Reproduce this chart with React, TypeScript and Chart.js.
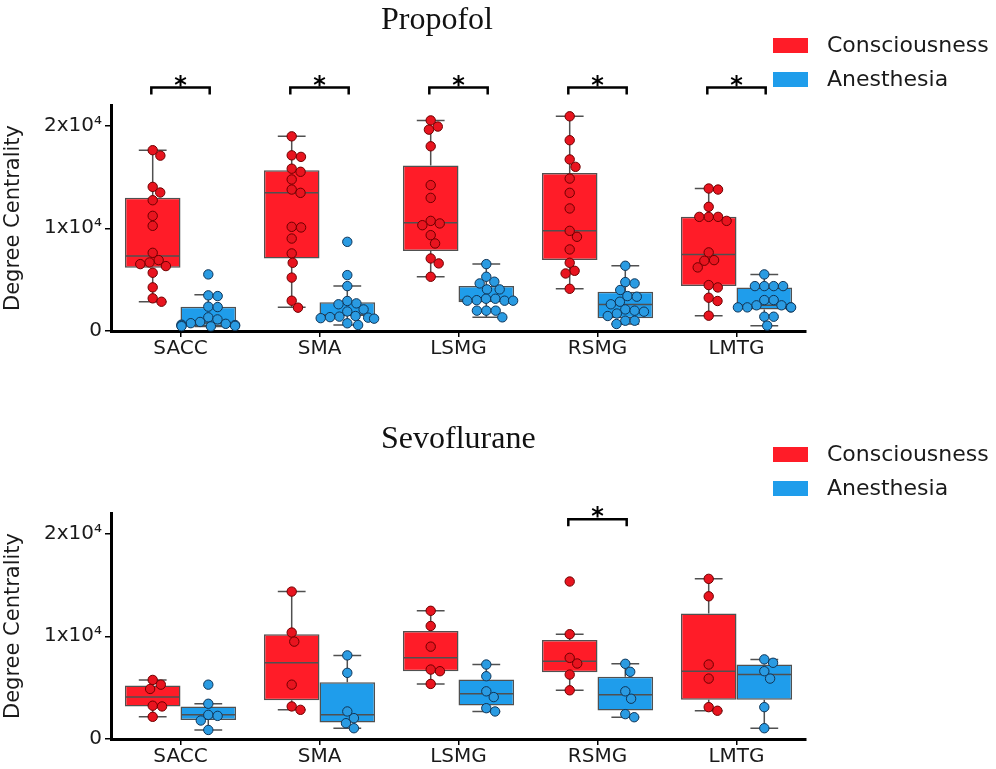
import React, { useEffect, useRef } from 'react';
import { Chart, registerables } from 'chart.js';

Chart.register(...registerables);

// ---------- data ----------
const regions = ['SACC', 'SMA', 'LSMG', 'RSMG', 'LMTG'];
const groupNames = ['Consciousness', 'Anesthesia'];
const yTickValues = [0, 10000, 20000];
const yTickLabels: Record<number, string> = { 0: '0', 10000: '1x10\u2074', 20000: '2x10\u2074' };

// box statistics per region: [whiskerLow, q1, median, q3, whiskerHigh]
const propofolConsciousnessBox = [
  [2850, 6160, 7290, 12960, 17600],
  [2300, 7060, 13450, 15650, 18950],
  [5280, 7780, 10530, 16100, 20500],
  [4110, 6900, 9750, 15390, 20900],
  [1490, 4370, 7450, 11110, 13870],
];
const propofolAnesthesiaBox = [
  [450, 480, 780, 2370, 3520],
  [580, 1460, 1550, 2790, 4370],
  [1330, 2790, 3010, 4370, 6510],
  [680, 1230, 2590, 3820, 6350],
  [520, 2100, 2500, 4240, 5510],
];
const sevofluraneConsciousnessBox = [
  [2160, 3170, 4080, 5200, 5750],
  [2840, 3760, 7420, 10200, 14350],
  [5360, 6600, 7900, 10520, 12480],
  [4740, 6500, 7580, 9640, 10200],
  [2750, 3820, 6600, 12220, 15590],
];
const sevofluraneAnesthesiaBox = [
  [880, 1860, 2350, 3170, 3430],
  [1050, 1600, 2350, 5520, 8140],
  [2680, 3270, 4410, 5780, 7250],
  [2120, 2780, 4310, 6050, 7320],
  [1050, 3820, 6270, 7250, 7750],
];

// individual subject values
const propofolConsciousnessPoints = [
  [17600, 17070, 14030, 13480, 12730, 11210, 10240, 7610, 6900, 6670, 6510, 6320, 5670, 4250, 3180, 2850],
  [18950, 17100, 16950, 15800, 15500, 14750, 13770, 13450, 10140, 10080, 9000, 7550, 6640, 5200, 2950, 2270],
  [20500, 19900, 19600, 17980, 14200, 12960, 10720, 10470, 10300, 9330, 8520, 7060, 6580, 5280],
  [20900, 18570, 16700, 15980, 14840, 13450, 11930, 9750, 9170, 7940, 6640, 5860, 5600, 4110],
  [13870, 13770, 12090, 11110, 11110, 11110, 10720, 7650, 6900, 6840, 6190, 4470, 4240, 3240, 2920, 1490],
];
const propofolAnesthesiaPoints = [
  [5510, 3470, 3400, 2370, 2330, 1330, 1130, 880, 760, 700, 620, 580, 540, 500, 470, 450],
  [8680, 5440, 4370, 2920, 2690, 2600, 2100, 1900, 1460, 1400, 1350, 1300, 1250, 1200, 750, 580],
  [6510, 5280, 4800, 4630, 4050, 4050, 3140, 3140, 3000, 2950, 2950, 2950, 1980, 1980, 1980, 1330],
  [6350, 4760, 4630, 3990, 3400, 3340, 2850, 2600, 2100, 1980, 1880, 1700, 1460, 1000, 1000, 680],
  [5510, 4370, 4370, 4370, 4370, 3010, 3010, 2500, 2500, 2300, 2300, 2300, 2300, 1390, 1390, 520],
];
const sevofluraneConsciousnessPoints = [
  [5750, 5290, 4870, 3240, 3170, 2160],
  [14350, 10360, 9480, 5290, 3170, 2840],
  [12480, 11000, 8990, 6760, 6600, 5360],
  [15330, 10200, 7900, 7350, 6270, 4740],
  [15590, 13890, 7250, 5880, 3100, 2750],
];
const sevofluraneAnesthesiaPoints = [
  [5290, 3430, 2350, 2250, 1800, 880],
  [8140, 6440, 2680, 2030, 1540, 1050],
  [7250, 6110, 4640, 4080, 3000, 2680],
  [7320, 6540, 4640, 3920, 2420, 2120],
  [7750, 7420, 6600, 5880, 3100, 1050],
];

// significance markers (*) per region and bracket height (data units)
const propofolSignificant = [true, true, true, true, true];
const sevofluraneSignificant = [false, false, false, true, false];
const propofolBracketValue = 23700;
const sevofluraneBracketValue = 21400;

// ---------- styles ----------
const BOX_COLORS = ['#FF1C28', '#1F9DEB'];
const DOT_FILL = ['#E8141F', '#2A9BE2'];
const DOT_EDGE = ['#6E0000', '#0F3558'];
const EDGE = '#505050';
const TEXT = '#1a1a1a';
const SANS = "'DejaVu Sans', sans-serif";
const SERIF = "'Liberation Serif', 'Times New Roman', serif";

function swarmOffsets(ys: number[], d: number, limit: number): number[] {
  const order = ys.map((_, i) => i).sort((a, b) => ys[a] - ys[b]);
  const placed: { x: number; y: number }[] = [];
  const xs = new Array(ys.length).fill(0);
  for (const i of order) {
    const y = ys[i];
    const near = placed.filter((p) => Math.abs(p.y - y) < d);
    const cands = [0];
    for (const p of near) {
      const dx = Math.sqrt(d * d - (p.y - y) * (p.y - y));
      cands.push(p.x + dx, p.x - dx);
    }
    cands.sort((a, b) => Math.abs(a) - Math.abs(b) || b - a);
    let chosen = 0;
    for (const c of cands) {
      if (near.every((p) => (p.x - c) ** 2 + (p.y - y) ** 2 >= d * d - 0.01)) {
        chosen = c;
        break;
      }
    }
    xs[i] = chosen;
    placed.push({ x: chosen, y });
  }
  return xs.map((v) => Math.max(-limit, Math.min(limit, v)));
}

type PanelProps = {
  title: string;
  boxes: number[][][];
  points: number[][][];
  significant: boolean[];
  bracketValue: number;
  canvasTop: number;
  canvasHeight: number;
  areaTop: number;
  areaBottom: number;
  legendTop: number;
  titleBaseline: number;
};

function Panel(props: PanelProps) {
  const ref = useRef<HTMLCanvasElement | null>(null);
  useEffect(() => {
    const canvas = ref.current;
    if (!canvas) return;
    const W = 996;
    const areaLeft = 111;
    const areaRight = 806;
    const xAxisH = 30;

    const extras = {
      id: 'boxExtras',
      afterDatasetsDraw(chart: any) {
        const { ctx } = chart;
        const x = chart.scales.x;
        const y = chart.scales.y;
        const yp = (v: number) => y.getPixelForValue(v);
        ctx.save();
        for (let di = 0; di < 2; di++) {
          const meta = chart.getDatasetMeta(di);
          meta.data.forEach((bar: any, i: number) => {
            const s = props.boxes[di][i];
            const cx = bar.x;
            const w = bar.width;
            ctx.strokeStyle = EDGE;
            ctx.lineWidth = 1.5;
            ctx.beginPath();
            ctx.moveTo(cx, yp(s[3]));
            ctx.lineTo(cx, yp(s[4]));
            ctx.moveTo(cx, yp(s[1]));
            ctx.lineTo(cx, yp(s[0]));
            ctx.moveTo(cx - w / 4, yp(s[4]));
            ctx.lineTo(cx + w / 4, yp(s[4]));
            ctx.moveTo(cx - w / 4, yp(s[0]));
            ctx.lineTo(cx + w / 4, yp(s[0]));
            ctx.moveTo(cx - w / 2 + 1, yp(s[2]));
            ctx.lineTo(cx + w / 2 - 1, yp(s[2]));
            ctx.stroke();
          });
        }
        for (let di = 0; di < 2; di++) {
          const meta = chart.getDatasetMeta(di);
          meta.data.forEach((bar: any, i: number) => {
            const vals = props.points[di][i];
            const ys = vals.map(yp);
            const xs = swarmOffsets(ys, 9.4, bar.width / 2 - 1);
            ctx.fillStyle = DOT_FILL[di];
            ctx.strokeStyle = DOT_EDGE[di];
            ctx.lineWidth = 1;
            ys.forEach((py: number, k: number) => {
              ctx.beginPath();
              ctx.arc(bar.x + xs[k], py, 4.7, 0, Math.PI * 2);
              ctx.fill();
              ctx.stroke();
            });
          });
        }
        // significance brackets
        const step = x.getPixelForValue(1) - x.getPixelForValue(0);
        const half = step * 0.21;
        const yb = yp(props.bracketValue);
        ctx.strokeStyle = '#000';
        ctx.lineWidth = 2.5;
        ctx.fillStyle = '#000';
        ctx.font = `bold 24px ${SANS}`;
        ctx.textAlign = 'center';
        ctx.textBaseline = 'alphabetic';
        props.significant.forEach((sig, i) => {
          if (!sig) return;
          const cx = x.getPixelForValue(i);
          ctx.beginPath();
          ctx.moveTo(cx - half, yb + 7);
          ctx.lineTo(cx - half, yb);
          ctx.lineTo(cx + half, yb);
          ctx.lineTo(cx + half, yb + 7);
          ctx.stroke();
          const m = ctx.measureText('*');
          const target = yb - 7;
          const base = target - (m.actualBoundingBoxDescent - m.actualBoundingBoxAscent) / 2;
          ctx.fillText('*', cx, base);
        });
        ctx.restore();
      },
      afterDraw(chart: any) {
        const { ctx } = chart;
        ctx.save();
        ctx.fillStyle = '#111';
        ctx.font = `32px ${SERIF}`;
        ctx.textAlign = 'left';
        ctx.textBaseline = 'alphabetic';
        ctx.fillText(props.title, 381, props.titleBaseline);
        groupNames.forEach((name, gi) => {
          const top = props.legendTop + gi * 34;
          ctx.fillStyle = BOX_COLORS[gi];
          ctx.fillRect(773, top, 35, 15);
          ctx.fillStyle = TEXT;
          ctx.font = `22px ${SANS}`;
          ctx.textBaseline = 'middle';
          ctx.fillText(name, 827, top + 8);
        });
        ctx.restore();
      },
    };

    const tickGrid = {
      display: true,
      drawOnChartArea: false,
      drawTicks: true,
      tickLength: 6,
      color: '#000',
      lineWidth: 1.5,
      offset: false,
    };
    const chart = new Chart(canvas, {
      type: 'bar',
      data: {
        labels: regions,
        datasets: groupNames.map((name, gi) => ({
          label: name,
          data: props.boxes[gi].map((s) => [s[1], s[3]]),
          backgroundColor: BOX_COLORS[gi],
          borderColor: EDGE,
          borderWidth: 1.5,
          borderSkipped: false,
          categoryPercentage: 0.8,
          barPercentage: 1.0,
        })),
      },
      options: {
        responsive: false,
        animation: false,
        events: [],
        layout: {
          padding: {
            top: props.areaTop,
            right: W - areaRight,
            bottom: props.canvasHeight - props.areaBottom - xAxisH,
            left: 0,
          },
        },
        plugins: {
          legend: { display: false },
          title: { display: false },
          tooltip: { enabled: false },
        },
        scales: {
          x: {
            type: 'category',
            grid: tickGrid,
            border: { display: true, color: '#000', width: 3 },
            ticks: { color: TEXT, font: { family: SANS, size: 20 }, padding: 0, maxRotation: 0 },
            afterFit: (s: any) => {
              s.height = xAxisH;
            },
          },
          y: {
            type: 'linear',
            min: 0,
            max: 22000,
            grid: tickGrid,
            border: { display: true, color: '#000', width: 3 },
            ticks: {
              color: TEXT,
              font: { family: SANS, size: 20 },
              padding: 3,
              callback: (v: any) => yTickLabels[v as number] ?? '',
            },
            afterBuildTicks: (s: any) => {
              s.ticks = yTickValues.map((v) => ({ value: v }));
            },
            title: {
              display: true,
              text: 'Degree Centrality',
              color: TEXT,
              font: { family: SANS, size: 21 },
              padding: { top: 1, bottom: 0 },
            },
            afterFit: (s: any) => {
              s.width = areaLeft;
            },
          },
        },
      } as any,
      plugins: [extras],
    });
    return () => chart.destroy();
  }, []);
  return (
    <canvas
      ref={ref}
      width={996}
      height={props.canvasHeight}
      style={{ position: 'fixed', left: 0, top: props.canvasTop, width: 996, height: props.canvasHeight, display: 'block' }}
    />
  );
}

export default function App() {
  return (
    <div>
      <Panel
        title="Propofol"
        boxes={[propofolConsciousnessBox, propofolAnesthesiaBox]}
        points={[propofolConsciousnessPoints, propofolAnesthesiaPoints]}
        significant={propofolSignificant}
        bracketValue={propofolBracketValue}
        canvasTop={0}
        canvasHeight={390}
        areaTop={105}
        areaBottom={331}
        legendTop={38}
        titleBaseline={29}
      />
      <Panel
        title="Sevoflurane"
        boxes={[sevofluraneConsciousnessBox, sevofluraneAnesthesiaBox]}
        points={[sevofluraneConsciousnessPoints, sevofluraneAnesthesiaPoints]}
        significant={sevofluraneSignificant}
        bracketValue={sevofluraneBracketValue}
        canvasTop={390}
        canvasHeight={379}
        areaTop={123}
        areaBottom={349}
        legendTop={57}
        titleBaseline={58}
      />
    </div>
  );
}
